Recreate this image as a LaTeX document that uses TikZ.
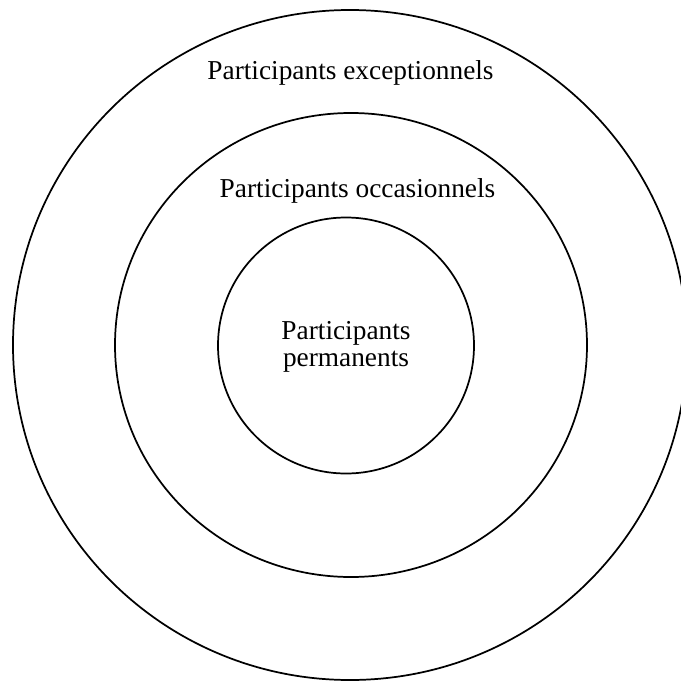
\documentclass[tikz,border=0pt]{standalone}
\usepackage{fontspec}
\setmainfont{Liberation Serif}
\usetikzlibrary{shapes.geometric}
\begin{document}
\begin{tikzpicture}[x=0.75pt,y=-0.75pt,
  ring/.style={ellipse,draw,line width=1.3pt,inner sep=0pt},
  lbl/.style={font=\fontsize{20.5}{20.3}\selectfont,align=center,inner sep=0pt}]
\useasboundingbox (0,0) rectangle (681,682);
\clip (0,0) rectangle (681,682);
\node[ring,minimum width=505.5pt,minimum height=502.5pt] (outer) at (350,345) {};
\node[ring,minimum width=354pt,minimum height=348pt] (middle) at (351,345) {};
\node[ring,minimum width=192pt,minimum height=192pt] (inner) at (346,345.5) {};
\node[lbl] (exc) at (350.5,73) {Participants exceptionnels};
\node[lbl] (occ) at (357.5,191) {Participants occasionnels};
\node[lbl] (perm) at (346,347) {Participants\\permanents};
\end{tikzpicture}
\end{document}
